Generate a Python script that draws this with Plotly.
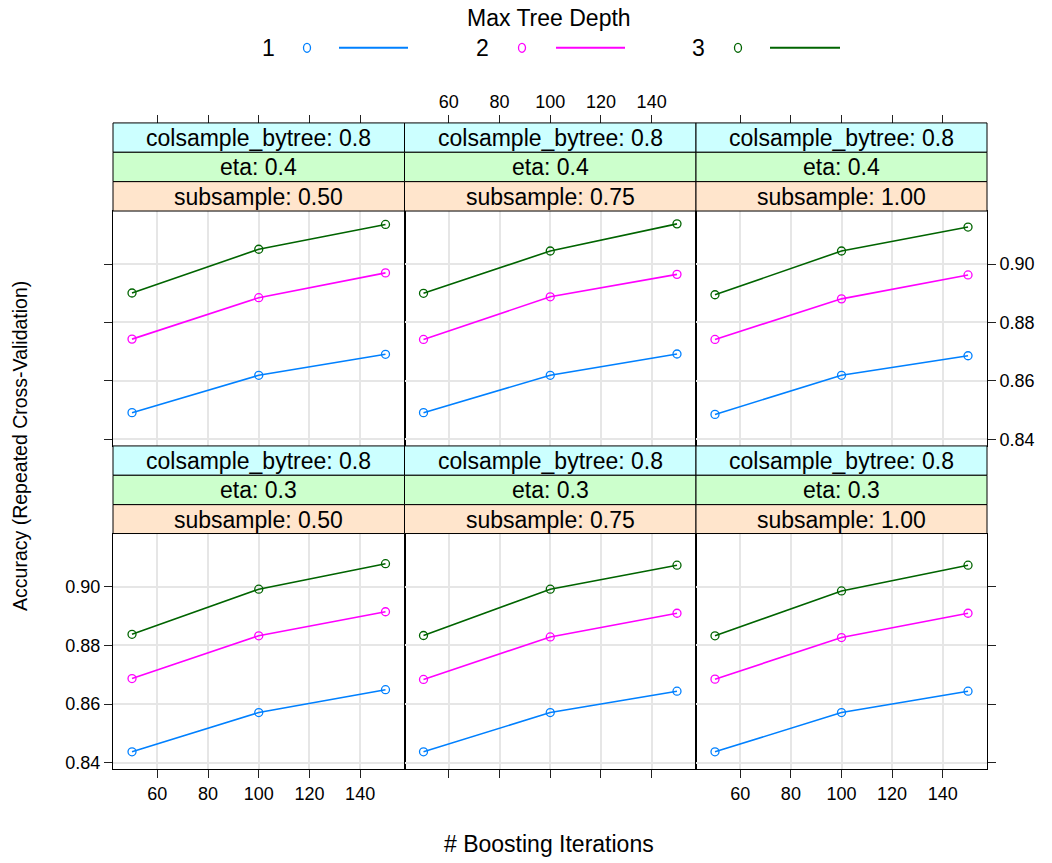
import plotly.graph_objects as go

# ---------------- data ----------------
iterations = [50, 100, 150]
depth_labels = ["1", "2", "3"]
depth_colors = ["#0080FF", "#FF00FF", "#006400"]
eta_levels = ["0.4", "0.3"]          # top row, bottom row
subsample_levels = ["0.50", "0.75", "1.00"]
colsample_level = "0.8"
x_ticks = [60, 80, 100, 120, 140]
y_ticks = [0.84, 0.86, 0.88, 0.90]

# eta 0.4
acc_e04_s050_d1 = [0.8491, 0.8619, 0.8691]
acc_e04_s050_d2 = [0.8743, 0.8885, 0.8970]
acc_e04_s050_d3 = [0.8901, 0.9051, 0.9136]
acc_e04_s075_d1 = [0.8491, 0.8619, 0.8692]
acc_e04_s075_d2 = [0.8742, 0.8888, 0.8965]
acc_e04_s075_d3 = [0.8900, 0.9045, 0.9138]
acc_e04_s100_d1 = [0.8485, 0.8619, 0.8686]
acc_e04_s100_d2 = [0.8742, 0.8881, 0.8963]
acc_e04_s100_d3 = [0.8895, 0.9045, 0.9127]
# eta 0.3
acc_e03_s050_d1 = [0.8437, 0.8571, 0.8649]
acc_e03_s050_d2 = [0.8687, 0.8833, 0.8915]
acc_e03_s050_d3 = [0.8838, 0.8992, 0.9079]
acc_e03_s075_d1 = [0.8437, 0.8571, 0.8644]
acc_e03_s075_d2 = [0.8684, 0.8829, 0.8910]
acc_e03_s075_d3 = [0.8834, 0.8992, 0.9074]
acc_e03_s100_d1 = [0.8437, 0.8571, 0.8644]
acc_e03_s100_d2 = [0.8685, 0.8827, 0.8910]
acc_e03_s100_d3 = [0.8833, 0.8986, 0.9074]

panels = [
    [[acc_e04_s050_d1, acc_e04_s050_d2, acc_e04_s050_d3],
     [acc_e04_s075_d1, acc_e04_s075_d2, acc_e04_s075_d3],
     [acc_e04_s100_d1, acc_e04_s100_d2, acc_e04_s100_d3]],
    [[acc_e03_s050_d1, acc_e03_s050_d2, acc_e03_s050_d3],
     [acc_e03_s075_d1, acc_e03_s075_d2, acc_e03_s075_d3],
     [acc_e03_s100_d1, acc_e03_s100_d2, acc_e03_s100_d3]],
]

# ---------------- layout geometry (pixels) ----------------
W, H = 1052, 863
FONT = "Liberation Sans, Arial, sans-serif"
TICK_SIZE = 18
STRIP_SIZE = 23
X_RANGE = [42.5, 157.5]
Y_RANGE = [0.8377, 0.9182]
col_edges = [113, 404.5, 696, 987]
row_panels = [(212, 448), (536, 773)]
row_strips = [[(123.5, 153), (153, 182.5), (182.5, 212)],
              [(448, 477.5), (477.5, 507), (507, 536)]]
strip_fills = ["#CCFFFF", "#CCFFCC", "#FFE5CC"]


def px(x):
    return x / W


def py(y):
    return 1 - y / H


fig = go.Figure()
layout = dict(
    width=W, height=H,
    margin=dict(l=0, r=0, t=0, b=0),
    paper_bgcolor="white", plot_bgcolor="white",
    showlegend=False,
    font=dict(family=FONT, size=TICK_SIZE, color="black"),
)
shapes, annotations = [], []

GRID = "#E6E6E6"
for r in range(2):
    for c in range(3):
        k = r * 3 + c + 1
        xs = "" if k == 1 else str(k)
        xa = dict(
            domain=[px(col_edges[c]), px(col_edges[c + 1])],
            range=X_RANGE, anchor="y" + xs,
            tickvals=x_ticks, showgrid=True, gridcolor=GRID, gridwidth=1.5,
            zeroline=False, showline=True, linecolor="black", linewidth=1,
            mirror=True, tickfont=dict(size=TICK_SIZE, family=FONT, color="black"),
        )
        if r == 1:
            xa.update(side="bottom", ticks="outside", ticklen=8, tickcolor="#222",
                      showticklabels=(c != 1))
        else:
            xa.update(ticks="", showticklabels=False)
        ya = dict(
            domain=[py(row_panels[r][1]), py(row_panels[r][0])],
            range=Y_RANGE, anchor="x" + xs,
            tickvals=y_ticks, tickformat=".2f",
            showgrid=True, gridcolor=GRID, gridwidth=1.5,
            zeroline=False, showline=True, linecolor="black", linewidth=1,
            mirror=True, tickfont=dict(size=TICK_SIZE, family=FONT, color="black"),
        )
        if c == 0:
            ya.update(side="left", ticks="outside", ticklen=8, tickcolor="#222",
                      showticklabels=(r == 1))
        elif c == 2:
            ya.update(side="right", ticks="outside", ticklen=8, tickcolor="#222",
                      showticklabels=(r == 0))
        else:
            ya.update(ticks="", showticklabels=False)
        layout["xaxis" + xs] = xa
        layout["yaxis" + xs] = ya

        for d in range(3):
            fig.add_trace(go.Scatter(
                x=iterations, y=panels[r][c][d], xaxis="x" + xs, yaxis="y" + xs,
                mode="lines+markers",
                line=dict(color=depth_colors[d], width=1.6),
                marker=dict(symbol="circle-open", size=8, color=depth_colors[d],
                            line=dict(width=1.3, color=depth_colors[d])),
                name=depth_labels[d], hoverinfo="x+y",
            ))

        # strips
        strip_texts = ["colsample_bytree: " + colsample_level,
                       "eta: " + eta_levels[r],
                       "subsample: " + subsample_levels[c]]
        for s in range(3):
            y0, y1 = row_strips[r][s]
            shapes.append(dict(type="rect", xref="paper", yref="paper",
                               x0=px(col_edges[c]), x1=px(col_edges[c + 1]),
                               y0=py(y1), y1=py(y0), fillcolor=strip_fills[s],
                               line=dict(color="black", width=1), layer="above"))
            annotations.append(dict(xref="paper", yref="paper",
                                    x=px((col_edges[c] + col_edges[c + 1]) / 2),
                                    y=py((y0 + y1) / 2 + 0.5), text=strip_texts[s],
                                    showarrow=False, xanchor="center", yanchor="middle",
                                    font=dict(size=STRIP_SIZE, family=FONT, color="black")))

# top x axes (above the strips of the top row)
for c in range(3):
    k = 7 + c
    base = "x" if c == 0 else "x" + str(c + 1)
    layout["xaxis" + str(k)] = dict(
        overlaying=base, anchor="free", position=py(row_strips[0][0][0]),
        side="top", range=X_RANGE, tickvals=x_ticks, ticks="outside", ticklen=8,
        tickcolor="#222", showgrid=False, zeroline=False, showline=False,
        showticklabels=(c == 1),
        tickfont=dict(size=TICK_SIZE, family=FONT, color="black"),
    )
    ybase = "y" if c == 0 else "y" + str(c + 1)
    fig.add_trace(go.Scatter(x=iterations, y=panels[0][c][0], xaxis="x" + str(k),
                             yaxis=ybase, mode="markers", marker=dict(opacity=0),
                             hoverinfo="skip", showlegend=False))

# axis titles
annotations.append(dict(xref="paper", yref="paper", x=px(549), y=py(848),
                        xanchor="center", yanchor="middle",
                        text="# Boosting Iterations", showarrow=False,
                        font=dict(size=23, family=FONT, color="black")))
annotations.append(dict(xref="paper", yref="paper", x=px(20), y=py(448),
                        xanchor="center", yanchor="middle",
                        text="Accuracy (Repeated Cross-Validation)", showarrow=False,
                        textangle=-90, font=dict(size=19.5, family=FONT, color="black")))

# legend (key drawn as decoration)
annotations.append(dict(xref="paper", yref="paper", x=px(549), y=py(18),
                        xanchor="center", yanchor="middle",
                        text="Max Tree Depth", showarrow=False,
                        font=dict(size=23, family=FONT, color="black")))
leg_text_x = [268, 482, 698]
leg_mark_x = [307, 522, 738]
leg_line_x = [(339, 408), (556, 625), (770, 840)]
LEG_Y = 48
for d in range(3):
    annotations.append(dict(xref="paper", yref="paper", x=px(leg_text_x[d]), y=py(LEG_Y),
                            xanchor="center", yanchor="middle",
                            text=depth_labels[d], showarrow=False,
                            font=dict(size=23, family=FONT, color="black")))
    shapes.append(dict(type="circle", xref="paper", yref="paper",
                       xsizemode="pixel", ysizemode="pixel",
                       xanchor=px(leg_mark_x[d]), yanchor=py(LEG_Y),
                       x0=-3.5, x1=3.5, y0=-4.5, y1=4.5,
                       line=dict(color=depth_colors[d], width=1.3)))
    shapes.append(dict(type="line", xref="paper", yref="paper",
                       x0=px(leg_line_x[d][0]), x1=px(leg_line_x[d][1]),
                       y0=py(LEG_Y), y1=py(LEG_Y),
                       line=dict(color=depth_colors[d], width=2)))

layout["shapes"] = shapes
layout["annotations"] = annotations
fig.update_layout(**layout)
fig.write_html("out.html", config={"displayModeBar": False},
               post_script="document.body.style.margin='0px';document.body.style.overflow='hidden';")
